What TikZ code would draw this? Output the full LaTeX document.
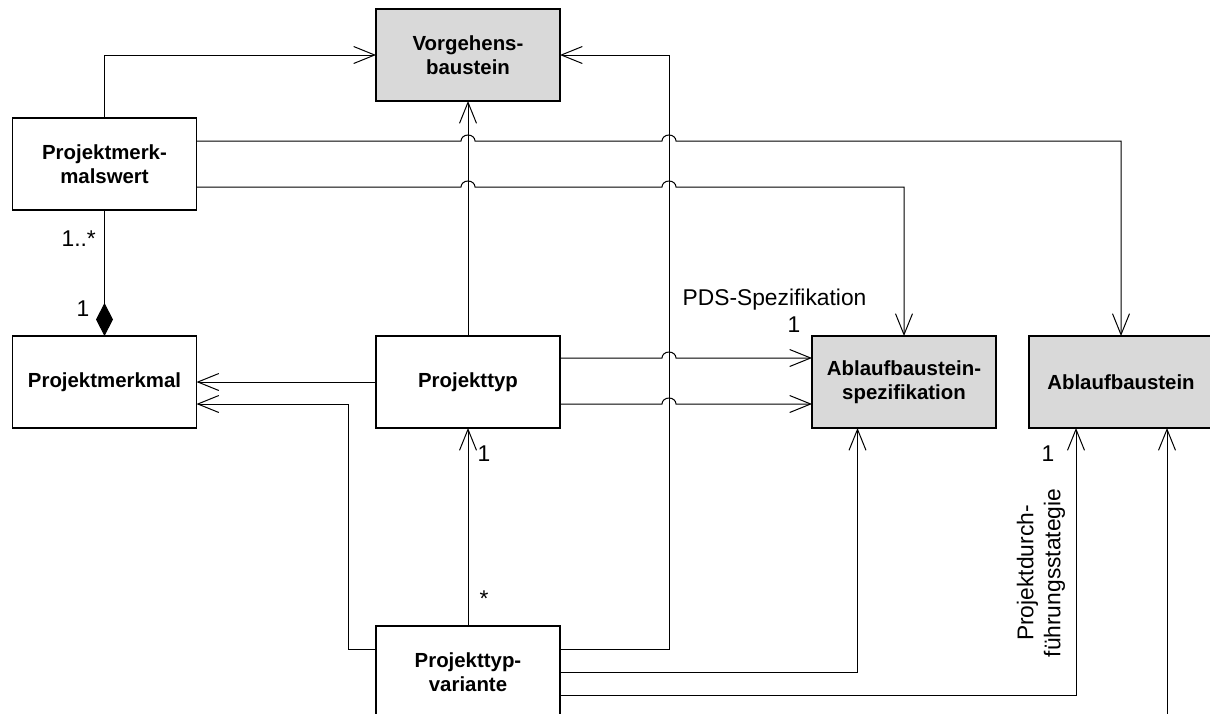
\documentclass[tikz,border=0pt]{standalone}
\usepackage{fontspec}
\setmainfont{Liberation Sans}
\usetikzlibrary{arrows.meta,calc}
\definecolor{boxgrey}{RGB}{217,217,217}
\tikzset{
  box/.style={draw=black, line width=1.6pt, minimum width=184pt, minimum height=92pt,
    inner sep=0pt, outer sep=0pt, align=center, font=\fontsize{20.4}{24}\selectfont\bfseries},
  greybox/.style={box, fill=boxgrey},
  conn/.style={line width=1pt, draw=black},
  arr/.style={conn, -{Straight Barb[length=21pt,width=17pt]}},
  comp/.style={conn, -{Diamond[length=33pt,width=17pt,fill=black]}},
  lbl/.style={font=\fontsize{22.8}{27}\selectfont, inner sep=0pt},
}
\begin{document}
\begin{tikzpicture}[x=1pt,y=-1pt]
\useasboundingbox (0,0) rectangle (1210,713);
\clip (0,0) rectangle (1210,713);
% nodes
\node[greybox] (vb)  at (468,55)    {Vorgehens-\\baustein};
\node[box]     (pmw) at (104.5,164) {Projektmerk-\\malswert};
\node[box]     (pm)  at (104.5,382) {Projektmerkmal};
\node[box]     (pt)  at (468,382)   {Projekttyp};
\node[greybox] (abs) at (904,382)   {Ablaufbaustein-\\spezifikation};
\node[greybox] (ab)  at (1121,382)  {Ablaufbaustein};
\node[box]     (ptv) at (468,672)   {Projekttyp-\\variante};
\coordinate (ext) at (1167,720);
% connectors
\draw[arr] (pmw.north) |- (vb.west);
\draw[arr] ($(pmw.east)+(0,-23)$) -- (461,141)
   arc[start angle=180,end angle=0,x radius=7pt,y radius=6pt] -- (662,141)
   arc[start angle=180,end angle=0,x radius=7pt,y radius=6pt] -- (ab.north |- 0,141) -- (ab.north);
\draw[arr] ($(pmw.east)+(0,23)$) -- (461,187)
   arc[start angle=180,end angle=0,x radius=7pt,y radius=6pt] -- (662,187)
   arc[start angle=180,end angle=0,x radius=7pt,y radius=6pt] -- (abs.north |- 0,187) -- (abs.north);
\draw[comp] (pmw.south) -- (pm.north);
\draw[arr] (pt.north) -- (vb.south);
\draw[arr] (pt.west) -- (pm.east);
\draw[arr] ($(pt.east)+(0,-24)$) -- (662,358)
   arc[start angle=180,end angle=0,x radius=7pt,y radius=6pt] -- ($(abs.west)+(0,-24)$);
\draw[arr] ($(pt.east)+(0,22)$) -- (662,404)
   arc[start angle=180,end angle=0,x radius=7pt,y radius=6pt] -- ($(abs.west)+(0,22)$);
\draw[arr] (ptv.north) -- (pt.south);
\draw[arr] ($(ptv.west)+(0,-23)$) -- (348,649) -- (348,404) -- ($(pm.east)+(0,22)$);
\draw[arr] ($(ptv.east)+(0,-23)$) -| ($(vb.east)+(109,0)$) -- (vb.east);
\draw[arr] (ptv.east) -| ($(abs.south)+(-46.5,0)$);
\draw[arr] ($(ptv.east)+(0,23)$) -| ($(ab.south)+(-45,0)$);
\draw[arr] (ext) -- ($(ab.south)+(46,0)$);
% labels
\node[lbl, anchor=base east] (m1) at (96,246) {1..*};
\node[lbl, anchor=base] (m2) at (83,316.5) {1};
\node[lbl, anchor=base] (r1) at (774.5,305.5) {PDS-Spezifikation};
\node[lbl, anchor=base] (m3) at (794,332.5) {1};
\node[lbl, anchor=base] (m4) at (484,461.5) {1};
\node[lbl, anchor=base] (m5) at (484,606) {*};
\node[lbl, anchor=base] (m6) at (1048,461.5) {1};
\node[lbl, rotate=90, align=center] (r2) at (1041,573) {Projektdurch-\\führungsstategie};
\end{tikzpicture}
\end{document}
